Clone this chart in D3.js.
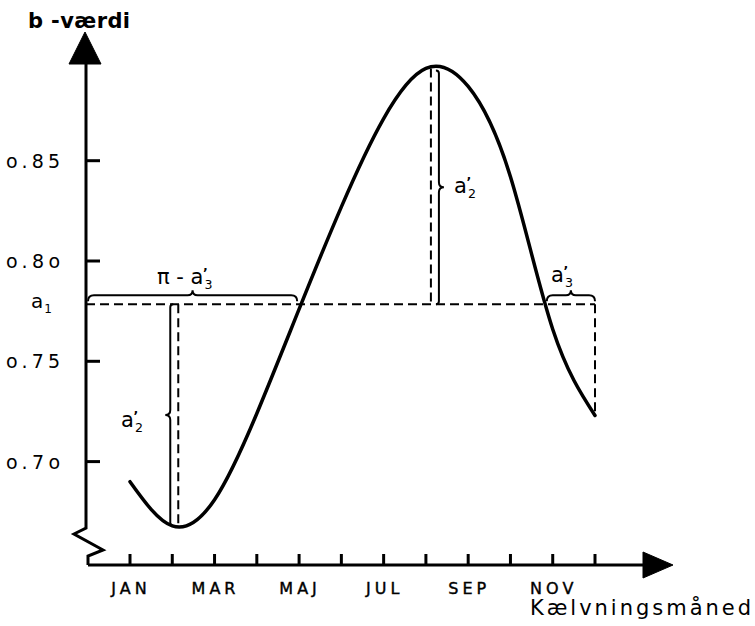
<!DOCTYPE html>
<html>
<head>
<meta charset="utf-8">
<script src="https://cdn.jsdelivr.net/npm/d3@7"></script>
<style>
  body { margin: 0; background: #fff; }
  svg { display: block; }
  text { font-family: "DejaVu Sans", sans-serif; fill: #000; }
</style>
</head>
<body>
<script>
// months along the x axis, and the b-value read at each month
const months = ['JAN', 'FEB', 'MAR', 'APR', 'MAJ', 'JUN', 'JUL', 'AUG', 'SEP', 'OKT', 'NOV', 'DEC'];
const shownMonths = ['JAN', 'MAR', 'MAJ', 'JUL', 'SEP', 'NOV'];
const bValues = [0.690, 0.668, 0.681, 0.724, 0.776, 0.827, 0.871, 0.896, 0.887, 0.842, 0.766, 0.723];
const yTicks = [0.70, 0.75, 0.80, 0.85];
const yTickLabels = ['o.7o', 'o.75', 'o.8o', 'o.85'];
const a1 = 0.7785;

const width = 755, height = 626;
const axisX = 86, axisY = 565;

const svg = d3.select('body').append('svg')
    .attr('width', width)
    .attr('height', height);

const x = d3.scalePoint()
    .domain(months)
    .range([130, 595]);
const y = d3.scaleLinear()
    .domain([0.70, 0.85])
    .range([461.6, 160.7]);

const data = months.map(function(m, i) { return {month: m, value: bValues[i]}; });

// ---- axes ----
const axes = svg.append('g')
    .attr('stroke', '#000')
    .attr('fill', 'none')
    .attr('stroke-width', 3);

// y axis with the break near the bottom
axes.append('path')
    .attr('d', 'M' + axisX + ',60 L' + axisX + ',528 L74,534 L103,550 L88,556 L88,' + axisY);
axes.append('path')
    .attr('fill', '#000')
    .attr('stroke-width', 1)
    .attr('d', 'M' + (axisX - 1) + ',32 L' + (axisX + 15) + ',64 L' + (axisX - 17) + ',64 Z');

// x axis with arrow
axes.append('path')
    .attr('d', 'M88,' + axisY + ' L645,' + axisY);
axes.append('path')
    .attr('fill', '#000')
    .attr('stroke-width', 1)
    .attr('d', 'M643,' + (axisY - 13) + ' L673,' + axisY + ' L643,' + (axisY + 13) + ' Z');

// x ticks (every month), labels every other month
axes.selectAll('.xtick')
  .data(months)
  .enter().append('line')
    .attr('class', 'xtick')
    .attr('x1', function(d) { return x(d); })
    .attr('x2', function(d) { return x(d); })
    .attr('y1', axisY)
    .attr('y2', axisY - 11);

svg.selectAll('.xlabel')
  .data(shownMonths)
  .enter().append('text')
    .attr('class', 'xlabel')
    .attr('x', function(d) { return x(d) + 1; })
    .attr('y', 594)
    .attr('text-anchor', 'middle')
    .attr('font-size', 16)
    .attr('letter-spacing', 4)
    .attr('stroke', '#000')
    .attr('stroke-width', 0.4)
    .text(function(d) { return d; });

// y ticks pointing inward
axes.selectAll('.ytick')
  .data(yTicks)
  .enter().append('line')
    .attr('class', 'ytick')
    .attr('x1', axisX)
    .attr('x2', axisX + 14)
    .attr('y1', function(d) { return y(d); })
    .attr('y2', function(d) { return y(d); });

svg.selectAll('.ylabel')
  .data(yTicks)
  .enter().append('text')
    .attr('class', 'ylabel')
    .attr('x', 6)
    .attr('y', function(d) { return y(d) + 7; })
    .attr('font-size', 19)
    .attr('textLength', 54)
    .attr('lengthAdjust', 'spacing')
    .text(function(d, i) { return yTickLabels[i]; });

// titles
svg.append('text')
    .attr('x', 28)
    .attr('y', 28)
    .attr('font-size', 21)
    .attr('font-weight', 'bold')
    .attr('textLength', 102)
    .attr('lengthAdjust', 'spacing')
    .text('b -værdi');

svg.append('text')
    .attr('x', 530)
    .attr('y', 615)
    .attr('font-size', 21)
    .attr('textLength', 221)
    .attr('lengthAdjust', 'spacing')
    .text('Kælvningsmåned');

// ---- annotations ----
const ann = svg.append('g')
    .attr('fill', 'none')
    .attr('stroke', '#000');

const dashed = ann.append('g')
    .attr('stroke-width', 2)
    .attr('stroke-dasharray', '9,5');

// level a1 from the axis to December
dashed.append('line')
    .attr('x1', axisX)
    .attr('x2', x('DEC'))
    .attr('y1', y(a1))
    .attr('y2', y(a1));

// verticals at the minimum, maximum and the end of the curve
const minIdx = d3.minIndex(bValues);
const maxIdx = d3.maxIndex(bValues);
dashed.append('line')
    .attr('x1', x(months[minIdx]) + 6)
    .attr('x2', x(months[minIdx]) + 6)
    .attr('y1', y(a1))
    .attr('y2', y(bValues[minIdx]));
dashed.append('line')
    .attr('x1', x(months[maxIdx]) + 5)
    .attr('x2', x(months[maxIdx]) + 5)
    .attr('y1', y(bValues[maxIdx]))
    .attr('y2', y(a1));
dashed.append('line')
    .attr('x1', x('DEC'))
    .attr('x2', x('DEC'))
    .attr('y1', y(a1))
    .attr('y2', y(bValues[11]));

// where the curve crosses a1 (linear between readings)
function crossings() {
  const out = [];
  for (let i = 0; i < bValues.length - 1; i++) {
    const v0 = bValues[i] - a1, v1 = bValues[i + 1] - a1;
    if (v0 === 0 || v0 * v1 < 0) {
      const t = v0 / (v0 - v1);
      out.push(x(months[i]) + t * x.step());
    }
  }
  return out;
}
const cross = crossings();

// horizontal brace, ends curl down, bump up in the middle
function hBrace(x0, x1, yy, d, h) {
  const xm = (x0 + x1) / 2;
  return 'M' + x0 + ',' + (yy + d) +
    ' Q' + x0 + ',' + yy + ' ' + (x0 + d) + ',' + yy +
    ' L' + (xm - 5) + ',' + yy +
    ' Q' + xm + ',' + yy + ' ' + xm + ',' + (yy - h) +
    ' Q' + xm + ',' + yy + ' ' + (xm + 5) + ',' + yy +
    ' L' + (x1 - d) + ',' + yy +
    ' Q' + x1 + ',' + yy + ' ' + x1 + ',' + (yy + d);
}

// vertical brace, bump to side dir (-1 left, 1 right)
function vBrace(xx, y0, y1, d, h, dir) {
  const ym = (y0 + y1) / 2;
  return 'M' + (xx - dir * d) + ',' + y0 +
    ' Q' + xx + ',' + y0 + ' ' + xx + ',' + (y0 + d) +
    ' L' + xx + ',' + (ym - 5) +
    ' Q' + xx + ',' + ym + ' ' + (xx + dir * h) + ',' + ym +
    ' Q' + xx + ',' + ym + ' ' + xx + ',' + (ym + 5) +
    ' L' + xx + ',' + (y1 - d) +
    ' Q' + xx + ',' + y1 + ' ' + (xx - dir * d) + ',' + y1;
}

const braces = ann.append('g').attr('stroke-width', 2);
const yBr = y(a1) - 9;

braces.append('path')
    .attr('d', hBrace(axisX + 2, cross[0] - 4, yBr, 6, 5));
braces.append('path')
    .attr('d', hBrace(cross[1] + 1, x('DEC'), yBr, 6, 5));
braces.append('path')
    .attr('d', vBrace(x(months[minIdx]) - 2, y(a1), y(bValues[minIdx]), 3, 5, -1));
braces.append('path')
    .attr('d', vBrace(x(months[maxIdx]) + 13, y(bValues[maxIdx]) + 2, y(a1), 3, 5, 1));

// "a" with subscript and a prime stacked above the subscript, one text each
function primed(px, py, prefix, sub, size, prime) {
  const t = svg.append('text')
      .attr('x', px)
      .attr('y', py)
      .attr('font-size', size);
  t.append('tspan').text(prefix + 'a');
  t.append('tspan')
      .attr('dx', 1)
      .attr('dy', 5)
      .attr('font-size', size * 0.6)
      .text(sub);
  if (prime) {
    t.append('tspan')
        .attr('dx', -size * 0.45)
        .attr('dy', -12)
        .attr('font-size', size * 0.6)
        .attr('font-weight', 'bold')
        .text('\u2019');
  }
}

primed(31, y(a1) + 4, '', '1', 20, false);
primed(121, (y(a1) + y(bValues[minIdx])) / 2 + 12, '', '2', 21, true);
primed(454, (y(bValues[maxIdx]) + y(a1)) / 2 + 7, '', '2', 21, true);
primed(551, yBr - 13, '', '3', 21, true);
primed(157, yBr - 11, 'π - ', '3', 21, true);

// ---- the curve ----
const line = d3.line()
    .x(function(d) { return x(d.month); })
    .y(function(d) { return y(d.value); })
    .curve(d3.curveNatural);

svg.append('path')
    .datum(data)
    .attr('fill', 'none')
    .attr('stroke', '#000')
    .attr('stroke-width', 3.5)
    .attr('stroke-linecap', 'round')
    .attr('d', line);
</script>
</body>
</html>
